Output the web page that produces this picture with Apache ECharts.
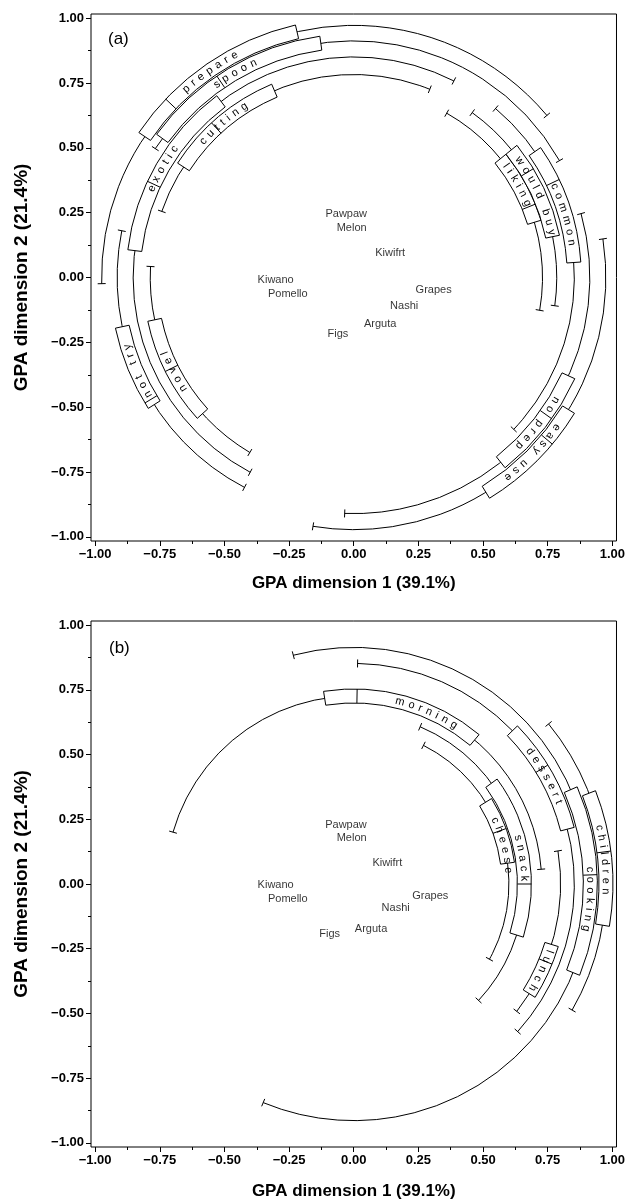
<!DOCTYPE html>
<html>
<head>
<meta charset="utf-8">
<script src="https://cdn.jsdelivr.net/npm/echarts@6/dist/echarts.min.js"></script>
<style>
html, body { margin: 0; padding: 0; background: #fff; }
#main { width: 628px; height: 1201px; }
</style>
</head>
<body>
<div id="main"></div>
<script>
// fruit positions (GPA dimension 1, dimension 2)
const fruits = ['Pawpaw', 'Melon', 'Kiwifrt', 'Kiwano', 'Pomello', 'Grapes', 'Nashi', 'Arguta', 'Figs'];
const fruitXA = [-0.029, -0.008, 0.141, -0.302, -0.255, 0.309, 0.195, 0.102, -0.061];
const fruitYA = [0.244, 0.192, 0.093, -0.010, -0.065, -0.048, -0.110, -0.181, -0.216];
const fruitXB = [-0.030, -0.008, 0.130, -0.302, -0.255, 0.296, 0.162, 0.067, -0.093];
const fruitYB = [0.228, 0.179, 0.082, -0.005, -0.056, -0.045, -0.092, -0.173, -0.193];

const majorTicks = [-1, -0.75, -0.5, -0.25, 0, 0.25, 0.5, 0.75, 1];
const minorTicks = [-0.875, -0.625, -0.375, -0.125, 0.125, 0.375, 0.625, 0.875];

// attribute arcs: label, radius, arc from, arc to, box from, box to, divider, first letter
// angles in degrees, anticlockwise from dimension 1
const arcsA = [
  ['prepare', 0.975, 40, 181.4, 103, 146, 136.5, 131.6],
  ['spoon', 0.915, 29.6, 147, 98, 144, 124.2, 125.3],
  ['exotic', 0.853, 63, 242, 127, 173, 155, 156.2],
  ['cutting', 0.785, 68, 161, 113, 147, 132.6, 137.8],
  ['liking', 0.73, -10, 60.5, 17, 39, 22, 36.3],
  ['would buy', 0.785, -8, 54.3, 11.6, 39, 31.2, 35.1],
  ['common', 0.853, -43.5, 50, 3.9, 34.8, 25.5, 24.4],
  ['not try', 0.915, 168.6, 242.5, 192, 212.5, 211, 209.6],
  ['novel', 0.787, 176.9, 239.3, 192, 222, 206.5, 213],
  ['no prep', 0.913, -92.2, 15.7, -51.5, -24.6, -35.5, -31.3],
  ['easy use', 0.975, -99.3, 8.8, -58.4, -31.6, -40, -36.5]
];
const arcsB = [
  ['morning', 0.727, 4.5, 164, 50, 98.9, 89, 75.8],
  ['dessert', 0.853, -42, 89, 14.4, 44, 31.5, 37],
  ['children', 0.975, -30, 39.4, -9.4, 21.1, 7.3, 12.9],
  ['cooking', 0.915, -112.5, 104.8, -22, 23.5, 2.2, 3.5],
  ['lunch', 0.8, -38, 9.2, -32, -17, -22, -19],
  ['snack', 0.66, -43, 67.1, -17.4, 36.2, 0, 15.7],
  ['cheese', 0.6, -29, 63.3, 7.7, 31.8, 20, 24.3]
];

const FONT = '"Liberation Sans", Arial, Helvetica, sans-serif';
const mctx = document.createElement('canvas').getContext('2d');
mctx.font = '11px ' + FONT;
const GAP = 4.5;

function letterOffsets(text) {
  const w = Array.from(text).map(ch => mctx.measureText(ch).width);
  const off = [0];
  for (let i = 1; i < w.length; i++) off.push(off[i - 1] + w[i - 1] / 2 + GAP + w[i] / 2);
  return off;
}

function arcRenderer(rows) {
  return function (params, api) {
    const [label, r, a0, a1, b0, b1, div, t0] = rows[params.dataIndex];
    const c = api.coord([0, 0]);
    const R = api.coord([r, 0])[0] - c[0];
    const rad = d => d * Math.PI / 180;
    const pt = (deg, rr) => [c[0] + rr * Math.cos(rad(deg)), c[1] - rr * Math.sin(rad(deg))];
    const line = { stroke: '#000', lineWidth: 1 };
    const kids = [];
    kids.push({
      type: 'arc',
      shape: { cx: c[0], cy: c[1], r: R, startAngle: -rad(a1), endAngle: -rad(a0), clockwise: true },
      style: { fill: null, stroke: '#000', lineWidth: 1 }
    });
    [a0, a1].forEach(a => {
      const p = pt(a, R - 4), q = pt(a, R + 4);
      kids.push({ type: 'line', shape: { x1: p[0], y1: p[1], x2: q[0], y2: q[1] }, style: line });
    });
    kids.push({
      type: 'sector',
      shape: { cx: c[0], cy: c[1], r0: R - 7, r: R + 7, startAngle: -rad(b1), endAngle: -rad(b0), clockwise: true },
      style: { fill: '#fff', stroke: '#000', lineWidth: 1 }
    });
    const p = pt(div, R - 7), q = pt(div, R + 7);
    kids.push({ type: 'line', shape: { x1: p[0], y1: p[1], x2: q[0], y2: q[1] }, style: line });
    const off = letterOffsets(label);
    Array.from(label).forEach((ch, i) => {
      if (ch === ' ') return;
      const ang = t0 - off[i] / R * 180 / Math.PI;
      const pos = pt(ang, R);
      kids.push({
        type: 'text',
        x: pos[0], y: pos[1],
        rotation: rad(ang - 90),
        style: { text: ch, fontSize: 11, fontFamily: FONT, fill: '#000', align: 'center', verticalAlign: 'middle' }
      });
    });
    return { type: 'group', children: kids };
  };
}

const fmt = v => (v < 0 ? '\u2212' : '') + Math.abs(v).toFixed(2);

function majorAxis(grid, name, gap, nameSize) {
  return {
    gridIndex: grid, type: 'value', min: -1.016, max: 1.016,
    axisLine: { show: false, onZero: false }, splitLine: { show: false },
    axisTick: { show: true, length: 5, customValues: majorTicks, lineStyle: { color: '#000' } },
    axisLabel: { customValues: majorTicks, formatter: fmt, fontWeight: 'bold', fontSize: 13, color: '#000', fontFamily: FONT, margin: 7 },
    name: name, nameLocation: 'middle', nameGap: gap,
    nameTextStyle: { fontWeight: 'bold', fontSize: nameSize, color: '#000', fontFamily: FONT }
  };
}
function minorAxis(grid, position) {
  return {
    gridIndex: grid, type: 'value', min: -1.016, max: 1.016, position: position, offset: 0,
    axisLine: { show: false, onZero: false }, splitLine: { show: false }, axisLabel: { show: false },
    axisTick: { show: true, length: 3, customValues: minorTicks, lineStyle: { color: '#000' } }
  };
}

const gridStyle = { show: true, borderColor: '#000', borderWidth: 1, backgroundColor: '#fff' };

const chart = echarts.init(document.getElementById('main'));
chart.setOption({
  animation: false,
  grid: [
    Object.assign({ left: 91, top: 14, width: 526, height: 527 }, gridStyle),
    Object.assign({ left: 91, top: 621, width: 526, height: 527 }, gridStyle)
  ],
  xAxis: [
    majorAxis(0, 'GPA dimension 1 (39.1%)', 34, 17),
    minorAxis(0, 'bottom'),
    majorAxis(1, 'GPA dimension 1 (39.1%)', 36, 17),
    minorAxis(1, 'bottom')
  ],
  yAxis: [
    majorAxis(0, 'GPA dimension 2 (21.4%)', 60, 19),
    minorAxis(0, 'left'),
    majorAxis(1, 'GPA dimension 2 (21.4%)', 60, 19),
    minorAxis(1, 'left')
  ],
  graphic: [
    { type: 'text', left: 108, top: 31, style: { text: '(a)', fontSize: 17, fill: '#000', fontFamily: FONT } },
    { type: 'text', left: 109, top: 640, style: { text: '(b)', fontSize: 17, fill: '#000', fontFamily: FONT } }
  ],
  series: [
    {
      type: 'custom', xAxisIndex: 0, yAxisIndex: 0, silent: true,
      renderItem: arcRenderer(arcsA), data: arcsA.map(() => [0, 0])
    },
    {
      type: 'custom', xAxisIndex: 2, yAxisIndex: 2, silent: true,
      renderItem: arcRenderer(arcsB), data: arcsB.map(() => [0, 0])
    },
    {
      type: 'scatter', xAxisIndex: 0, yAxisIndex: 0, symbolSize: 1, silent: true,
      itemStyle: { color: 'rgba(0,0,0,0)' },
      label: { show: true, position: 'inside', formatter: p => p.name, fontSize: 11, color: '#000', fontFamily: FONT },
      data: fruits.map((f, i) => ({ name: f, value: [fruitXA[i], fruitYA[i]] }))
    },
    {
      type: 'scatter', xAxisIndex: 2, yAxisIndex: 2, symbolSize: 1, silent: true,
      itemStyle: { color: 'rgba(0,0,0,0)' },
      label: { show: true, position: 'inside', formatter: p => p.name, fontSize: 11, color: '#000', fontFamily: FONT },
      data: fruits.map((f, i) => ({ name: f, value: [fruitXB[i], fruitYB[i]] }))
    }
  ]
});
</script>
</body>
</html>
